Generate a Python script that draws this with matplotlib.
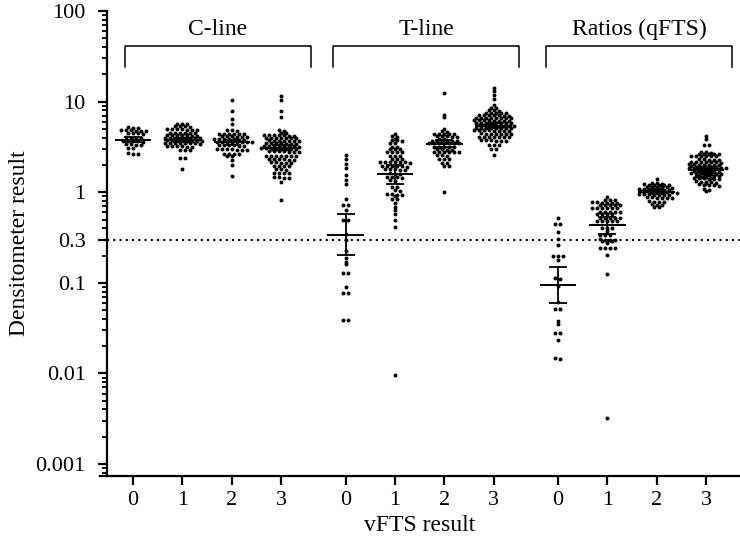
import numpy as np
import matplotlib.pyplot as plt

plt.rcParams['font.family'] = ['Liberation Serif', 'DejaVu Serif']

# group labels and x categories
panel_names = ['C-line', 'T-line', 'Ratios (qFTS)']
vfts_labels = ['0', '1', '2', '3'] * 3

# densitometer values, one list per vFTS group
c_line_0 = [5.2, 5.1, 5.15, 4.85, 4.8, 4.78, 4.83, 4.9, 4.75, 4.5, 4.45, 4.4, 4.48,
            4.0, 3.98, 4.02, 3.95, 3.7, 3.65, 3.68, 3.62, 3.72, 3.4, 3.35, 3.38, 3.32,
            3.1, 3.08, 2.68, 2.65, 2.62]
c_line_1 = [5.7, 5.68, 5.72, 5.32, 5.3, 5.35, 5.33, 4.93, 4.95, 4.9, 4.92, 4.96, 4.91, 4.94,
            4.53, 4.5, 4.55, 4.52, 4.56, 4.51, 4.24, 4.22, 4.26, 4.25, 4.23, 4.2, 4.27,
            3.96, 3.95, 3.97, 3.94, 3.98, 3.93, 3.99, 3.92, 3.73, 3.72, 3.74, 3.71, 3.75,
            3.7, 3.76, 3.69, 3.49, 3.48, 3.5, 3.47, 3.51, 3.46, 3.52, 3.45, 3.21, 3.2, 3.22,
            3.19, 3.23, 3.18, 2.95, 2.94, 2.96, 2.38, 2.37, 1.82]
c_line_2 = [10.5, 7.85, 6.36, 5.6, 4.81, 4.8, 4.82, 4.42, 4.4, 4.43, 4.41, 4.44, 4.39,
            4.13, 4.12, 4.14, 4.11, 4.15, 4.1, 3.83, 3.82, 3.84, 3.81, 3.85, 3.8, 3.86,
            3.58, 3.57, 3.59, 3.56, 3.6, 3.55, 3.61, 3.54, 3.29, 3.28, 3.3, 3.27, 3.31, 3.26,
            2.97, 2.96, 2.98, 2.95, 2.99, 2.94, 3.0, 2.66, 2.65, 2.67, 2.64, 2.51, 2.5,
            2.29, 2.01, 1.5]
c_line_3 = [11.5, 10.4, 7.94, 6.75, 4.81, 4.8, 4.53, 4.52, 4.24, 4.23, 4.25, 4.22, 4.26,
            4.21, 4.27, 3.96, 3.95, 3.97, 3.94, 3.98, 3.93, 3.99, 3.7, 3.69, 3.71, 3.68,
            3.72, 3.67, 3.73, 3.46, 3.45, 3.47, 3.44, 3.48, 3.43, 3.49, 3.23, 3.22, 3.24,
            3.21, 3.25, 3.2, 3.26, 3.19, 3.02, 3.01, 3.03, 3.0, 3.04, 2.99, 3.05, 2.98,
            2.82, 2.81, 2.83, 2.8, 2.84, 2.79, 2.85, 2.51, 2.5, 2.52, 2.49, 2.53, 2.48, 2.54,
            2.31, 2.3, 2.32, 2.29, 2.33, 2.28, 2.12, 2.11, 2.13, 2.1, 2.14, 1.95, 1.94,
            1.96, 1.93, 1.79, 1.78, 1.8, 1.63, 1.62, 1.64, 1.61, 1.46, 1.45, 1.47, 1.44,
            1.3, 0.815]
t_line_0 = [2.55, 2.31, 2.07, 1.85, 1.56, 1.38, 1.24, 0.835, 0.72, 0.718, 0.63, 0.49,
            0.488, 0.345, 0.30, 0.223, 0.19, 0.171, 0.16, 0.13, 0.129, 0.089, 0.078,
            0.077, 0.039, 0.0388]
t_line_1 = [4.42, 4.13, 4.12, 3.89, 3.73, 3.72, 3.74, 3.49, 3.48, 3.15, 3.14, 3.02, 3.01,
            3.03, 2.78, 2.77, 2.79, 2.76, 2.51, 2.5, 2.52, 2.31, 2.3, 2.32, 2.15, 2.14,
            2.16, 2.13, 2.17, 2.12, 2.18, 1.95, 1.94, 1.96, 1.93, 1.97, 1.92, 1.79, 1.78,
            1.8, 1.77, 1.81, 1.6, 1.59, 1.61, 1.47, 1.46, 1.48, 1.45, 1.35, 1.34, 1.14,
            1.13, 1.05, 1.04, 0.94, 0.93, 0.95, 0.92, 0.96, 0.85, 0.84, 0.77, 0.69, 0.63,
            0.57, 0.49, 0.41, 0.0095]
t_line_2 = [12.5, 7.15, 6.75, 5.02, 4.69, 4.68, 4.42, 4.41, 4.43, 4.4, 4.44, 4.13, 4.12,
            4.14, 4.11, 4.15, 3.89, 3.88, 3.67, 3.66, 3.68, 3.65, 3.69, 3.64, 3.49, 3.48,
            3.5, 3.47, 3.51, 3.46, 3.52, 3.15, 3.14, 3.16, 3.13, 3.17, 2.97, 2.96, 2.98,
            2.95, 2.78, 2.77, 2.79, 2.76, 2.8, 2.75, 2.55, 2.54, 2.56, 2.31, 2.3, 2.32,
            2.1, 2.09, 1.95, 1.94, 1.01]
t_line_3 = [14.0, 13.0, 11.9, 10.6, 9.22, 8.47, 8.45, 8.0, 7.98, 8.02, 7.46, 7.45, 7.47,
            7.44, 7.48, 7.04, 7.03, 7.05, 7.02, 7.06, 7.01, 7.07, 6.58, 6.57, 6.59, 6.56,
            6.6, 6.55, 6.61, 6.54, 6.2, 6.19, 6.21, 6.18, 6.22, 6.17, 6.23, 6.16, 5.84,
            5.83, 5.85, 5.82, 5.86, 5.81, 5.87, 5.8, 5.46, 5.45, 5.47, 5.44, 5.48, 5.43,
            5.49, 5.42, 5.1, 5.09, 5.11, 5.08, 5.12, 5.07, 5.13, 5.06, 4.81, 4.8, 4.82,
            4.79, 4.83, 4.78, 4.84, 4.77, 4.42, 4.41, 4.43, 4.4, 4.44, 4.39, 4.45, 4.06,
            4.05, 4.07, 4.04, 4.08, 4.03, 4.09, 3.73, 3.72, 3.74, 3.71, 3.75, 3.7, 3.34,
            3.33, 3.35, 3.02, 3.01, 2.55]
ratio_0 = [0.52, 0.45, 0.448, 0.365, 0.303, 0.26, 0.197, 0.196, 0.198, 0.18, 0.112, 0.111,
           0.093, 0.062, 0.051, 0.0508, 0.038, 0.035, 0.0277, 0.0276, 0.0234, 0.0147, 0.0146]
ratio_1 = [0.887, 0.815, 0.814, 0.816, 0.77, 0.769, 0.771, 0.768, 0.772, 0.767, 0.72,
           0.719, 0.721, 0.718, 0.722, 0.67, 0.669, 0.671, 0.668, 0.672, 0.667, 0.61,
           0.609, 0.611, 0.608, 0.612, 0.57, 0.569, 0.571, 0.568, 0.52, 0.519, 0.521,
           0.518, 0.522, 0.48, 0.479, 0.481, 0.478, 0.482, 0.40, 0.399, 0.401, 0.37,
           0.336, 0.335, 0.337, 0.30, 0.299, 0.301, 0.298, 0.288, 0.287, 0.289, 0.273,
           0.243, 0.242, 0.244, 0.241, 0.202, 0.125, 0.0032]
ratio_2 = [1.41, 1.27, 1.26, 1.21, 1.205, 1.215, 1.2, 1.22, 1.195, 1.225, 1.14, 1.135,
           1.145, 1.13, 1.15, 1.125, 1.08, 1.075, 1.085, 1.07, 1.09, 1.065, 1.095, 1.01,
           1.005, 1.015, 1.0, 1.02, 0.995, 1.025, 0.99, 0.94, 0.935, 0.945, 0.93, 0.95,
           0.925, 0.955, 0.87, 0.865, 0.875, 0.86, 0.88, 0.855, 0.79, 0.785, 0.795, 0.78,
           0.73, 0.725, 0.735, 0.69, 0.685]
ratio_3 = [4.17, 3.83, 3.29, 3.28, 2.78, 2.77, 2.66, 2.65, 2.67, 2.64, 2.68, 2.63, 2.51,
           2.5, 2.52, 2.49, 2.53, 2.48, 2.29, 2.28, 2.3, 2.27, 2.31, 2.15, 2.14, 2.16,
           2.13, 2.17, 2.12, 2.18, 2.01, 2.0, 2.02, 1.99, 2.03, 1.98, 2.04, 1.9, 1.89,
           1.91, 1.88, 1.92, 1.87, 1.93, 1.86, 1.82, 1.81, 1.83, 1.8, 1.84, 1.79, 1.85,
           1.78, 1.7, 1.69, 1.71, 1.68, 1.72, 1.67, 1.73, 1.66, 1.6, 1.59, 1.61, 1.58,
           1.62, 1.57, 1.63, 1.56, 1.51, 1.5, 1.52, 1.49, 1.53, 1.48, 1.54, 1.42, 1.41,
           1.43, 1.4, 1.44, 1.39, 1.45, 1.3, 1.29, 1.31, 1.28, 1.32, 1.27, 1.2, 1.19,
           1.21, 1.18, 1.22, 1.08, 1.07, 1.03]

all_groups = [c_line_0, c_line_1, c_line_2, c_line_3,
              t_line_0, t_line_1, t_line_2, t_line_3,
              ratio_0, ratio_1, ratio_2, ratio_3]

# central line and error bar ends for each group
centers = [3.8, 3.75, 3.55, 3.1, 0.34, 1.6, 3.45, 5.45, 0.095, 0.44, 1.01, 1.75]
err_low = [3.55, 3.55, 3.3, 2.9, 0.205, 1.24, 3.15, 5.1, 0.06, 0.35, 0.96, 1.68]
err_high = [4.05, 3.95, 3.8, 3.3, 0.58, 2.0, 3.75, 5.85, 0.15, 0.53, 1.06, 1.83]

cutoff = 0.3

positions = [0, 1, 2, 3, 4.3, 5.3, 6.3, 7.3, 8.6, 9.6, 10.6, 11.6]
brackets = [(-0.16, 3.6), (4.05, 7.81), (8.36, 12.13)]

fig = plt.figure(figsize=(7.4, 5.41), dpi=100)
ax = fig.add_axes([0.1351, 0.1201, 0.8649, 0.8595])
ax.set_yscale('log')
ax.set_xlim(-0.67, 12.285)
ax.set_ylim(10 ** -3.1325, 100)


def row_swarm(ax, x0, vals, gap=5.0, row_h=1.5):
    # prism-like layout: points close in y share a row, spread evenly around x0,
    # neighbouring rows staggered by half a step
    vals = np.asarray(vals, dtype=float)
    ypx = ax.transData.transform(np.column_stack([np.full(len(vals), x0), vals]))[:, 1]
    px_per_unit = ax.transData.transform([[1, 1]])[0, 0] - ax.transData.transform([[0, 1]])[0, 0]
    order = np.argsort(-ypx)
    xs = np.zeros(len(vals))
    rows = []
    for i in order:
        if rows and abs(ypx[rows[-1][0]] - ypx[i]) < row_h:
            rows[-1].append(i)
        else:
            rows.append([i])
    prev_phase, prev_y, flip = None, None, 1
    for row in rows:
        n = len(row)
        y = ypx[row[0]]
        shift = 0.0
        phase = (n + 1) % 2 * 0.5
        if prev_phase is not None and abs(prev_y - y) < 4.0 and phase == prev_phase and n > 1:
            shift = 0.5 * flip
            flip = -flip
            phase = (phase + 0.5) % 1
        for k, i in enumerate(row):
            xs[i] = (k - (n - 1) / 2 + shift) * gap
        prev_phase, prev_y = phase, y
    return x0 + xs / px_per_unit


for pos, vals in zip(positions, all_groups):
    ax.scatter(row_swarm(ax, pos, vals), vals, s=8, color='black', linewidths=0, zorder=3)

for pos, c, lo, hi in zip(positions, centers, err_low, err_high):
    ax.errorbar(pos, c, yerr=[[c - lo], [hi - c]], fmt='none', ecolor='black',
                elinewidth=1.3, capsize=6.8, capthick=1.3, zorder=4)
    ax.hlines(c, pos - 0.37, pos + 0.37, color='black', lw=1.4, zorder=4)

ax.axhline(cutoff, xmin=7 / 640, xmax=1, color='black', lw=1.5,
           linestyle=(0, (1, 2)), zorder=2)

for (x0, x1), name in zip(brackets, panel_names):
    ax.plot([x0, x0, x1, x1], [24.1, 41.1, 41.1, 24.1], color='black', lw=1.1)
    ax.text((x0 + x1) / 2, 54, name, ha='center', va='baseline', fontsize=17)

ax.spines['top'].set_visible(False)
ax.spines['right'].set_visible(False)
ax.spines['left'].set_position(('data', -0.524))
ax.spines['left'].set_linewidth(1.6)
ax.spines['bottom'].set_linewidth(1.6)

ax.set_xticks(positions)
ax.set_xticklabels(vfts_labels)
ax.set_yticks([0.001, 0.01, 0.1, 0.3, 1, 10, 100])
ax.set_yticklabels(['0.001', '0.01', '0.1', '0.3', '1', '10', '100'])
ax.tick_params(axis='both', which='major', labelsize=16, width=1.6, length=6.5, color='black')
ax.tick_params(axis='y', which='minor', width=1.3, length=3.5)
ax.tick_params(axis='x', which='major', pad=4)
ax.tick_params(axis='y', which='major', pad=9)

ax.set_xlabel('vFTS result', fontsize=17, labelpad=4)
ax.set_ylabel('Densitometer result', fontsize=17, labelpad=4)

fig.savefig('out.png', dpi=100)
